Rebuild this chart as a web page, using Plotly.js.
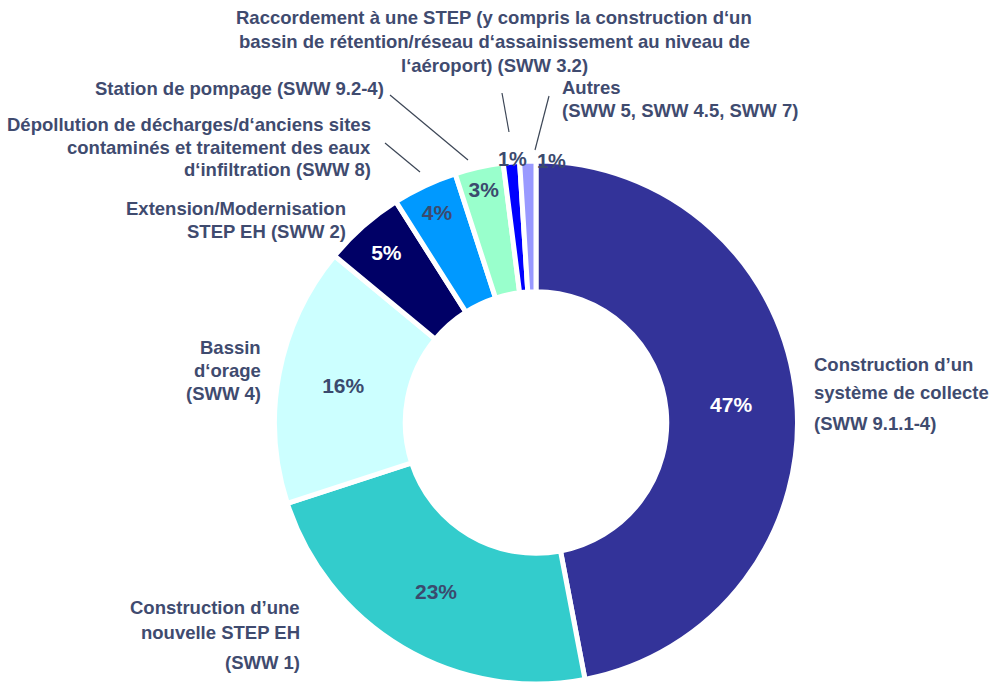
<!DOCTYPE html>
<html>
<head>
<meta charset="utf-8">
<script src="https://cdn.plot.ly/plotly-3.0.1.min.js"></script>
<style>
  html, body { margin: 0; padding: 0; background: #fff; }
  #chart { width: 990px; height: 684px; }
</style>
</head>
<body>
<div id="chart"></div>
<script>
const categories = [
  'Construction d\u2019un système de collecte (SWW 9.1.1-4)',
  'Construction d\u2019une nouvelle STEP EH (SWW 1)',
  'Bassin d\u2018orage (SWW 4)',
  'Extension/Modernisation STEP EH (SWW 2)',
  'Dépollution de décharges/d\u2018anciens sites contaminés et traitement des eaux d\u2018infiltration (SWW 8)',
  'Station de pompage (SWW 9.2-4)',
  'Raccordement à une STEP (SWW 3.2)',
  'Autres (SWW 5, SWW 4.5, SWW 7)'
];
const values = [47, 23, 16, 5, 4, 3, 1, 1];
const sliceColors = ['#333399', '#33CCCC', '#CCFFFF', '#000066', '#0099FF', '#99FFCC', '#0000FF', '#9999FF'];
const pctColors = ['#ffffff', '#3b4a6e', '#3b4a6e', '#ffffff', '#3b4a6e', '#3b4a6e', '#3b4a6e', '#3b4a6e'];

const W = 990, H = 684;
const textColor = '#3f4b6f';
const fontFam = 'Liberation Sans, Arial, sans-serif';

// outer labels: one entry per line, pixel position of the line centre
const labelLines = [
  ['Raccordement à une STEP (y compris la construction d\u2018un', 494, 18, 'center'],
  ['bassin de rétention/réseau d\u2018assainissement au niveau de', 494, 42, 'center'],
  ['l\u2018aéroport) (SWW 3.2)', 494, 65, 'center'],
  ['Station de pompage (SWW 9.2-4)', 386, 88, 'right'],
  ['Autres', 560, 87, 'left'],
  ['(SWW 5, SWW 4.5, SWW 7)', 560, 111, 'left'],
  ['Dépollution de décharges/d\u2018anciens sites', 373, 125, 'right'],
  ['contaminés et traitement des eaux', 373, 148, 'right'],
  ['d\u2018infiltration (SWW 8)', 373, 170, 'right'],
  ['Extension/Modernisation', 348, 208, 'right'],
  ['STEP EH (SWW 2)', 348, 231, 'right'],
  ['Bassin', 263, 347, 'right'],
  ['d\u2018orage', 263, 370, 'right'],
  ['(SWW 4)', 263, 393, 'right'],
  ['Construction d\u2019un', 812, 364, 'left'],
  ['système de collecte', 812, 392, 'left'],
  ['(SWW 9.1.1-4)', 812, 423, 'left'],
  ['Construction d\u2019une', 302, 607, 'right'],
  ['nouvelle STEP EH', 302, 632, 'right'],
  ['(SWW 1)', 302, 662, 'right']
];

// leader lines [x0, y0, x1, y1] in pixels
const leaders = [
  [390, 95, 468, 160],
  [385, 143, 420, 172],
  [502, 93, 509, 132],
  [549, 96, 535, 150]
];

const annotations = labelLines.map(([t, x, y, a]) => ({
  xref: 'paper', yref: 'paper', x: x / W, y: 1 - y / H,
  xanchor: a, yanchor: 'middle', text: t, showarrow: false,
  font: { family: fontFam, size: 18.5, color: textColor, weight: 'bold' }
}));

// small slices get their percentage outside, just above the ring
annotations.push(
  { xref: 'paper', yref: 'paper', x: 512 / W, y: 1 - 146 / H, text: values[6] + '%', showarrow: false,
    font: { family: fontFam, size: 20, color: pctColors[6], weight: 'bold' } },
  { xref: 'paper', yref: 'paper', x: 551 / W, y: 1 - 148 / H, text: values[7] + '%', showarrow: false,
    font: { family: fontFam, size: 20, color: pctColors[7], weight: 'bold' } }
);

const shapes = leaders.map(([x0, y0, x1, y1]) => ({
  type: 'line', xref: 'paper', yref: 'paper',
  x0: x0 / W, y0: 1 - y0 / H, x1: x1 / W, y1: 1 - y1 / H,
  line: { color: '#3c4656', width: 1.2 }
}));

const cx = 536, cy = 423, r = 262;

Plotly.newPlot('chart', [{
  type: 'pie',
  labels: categories,
  values: values,
  sort: false,
  direction: 'clockwise',
  rotation: 0,
  hole: 0.5,
  domain: { x: [(cx - r) / W, (cx + r) / W], y: [1 - (cy + r) / H, 1 - (cy - r) / H] },
  marker: { colors: sliceColors, line: { color: '#ffffff', width: 5 } },
  texttemplate: '%{value}%',
  textposition: ['inside', 'inside', 'inside', 'inside', 'inside', 'inside', 'none', 'none'],
  insidetextorientation: 'horizontal',
  textfont: { family: fontFam, size: 21, color: pctColors, weight: 'bold' },
  hoverinfo: 'none',
  showlegend: false
}], {
  width: W, height: H,
  margin: { l: 0, r: 0, t: 0, b: 0 },
  paper_bgcolor: '#ffffff',
  showlegend: false,
  annotations: annotations,
  shapes: shapes
}, { displayModeBar: false, staticPlot: true });
</script>
</body>
</html>
